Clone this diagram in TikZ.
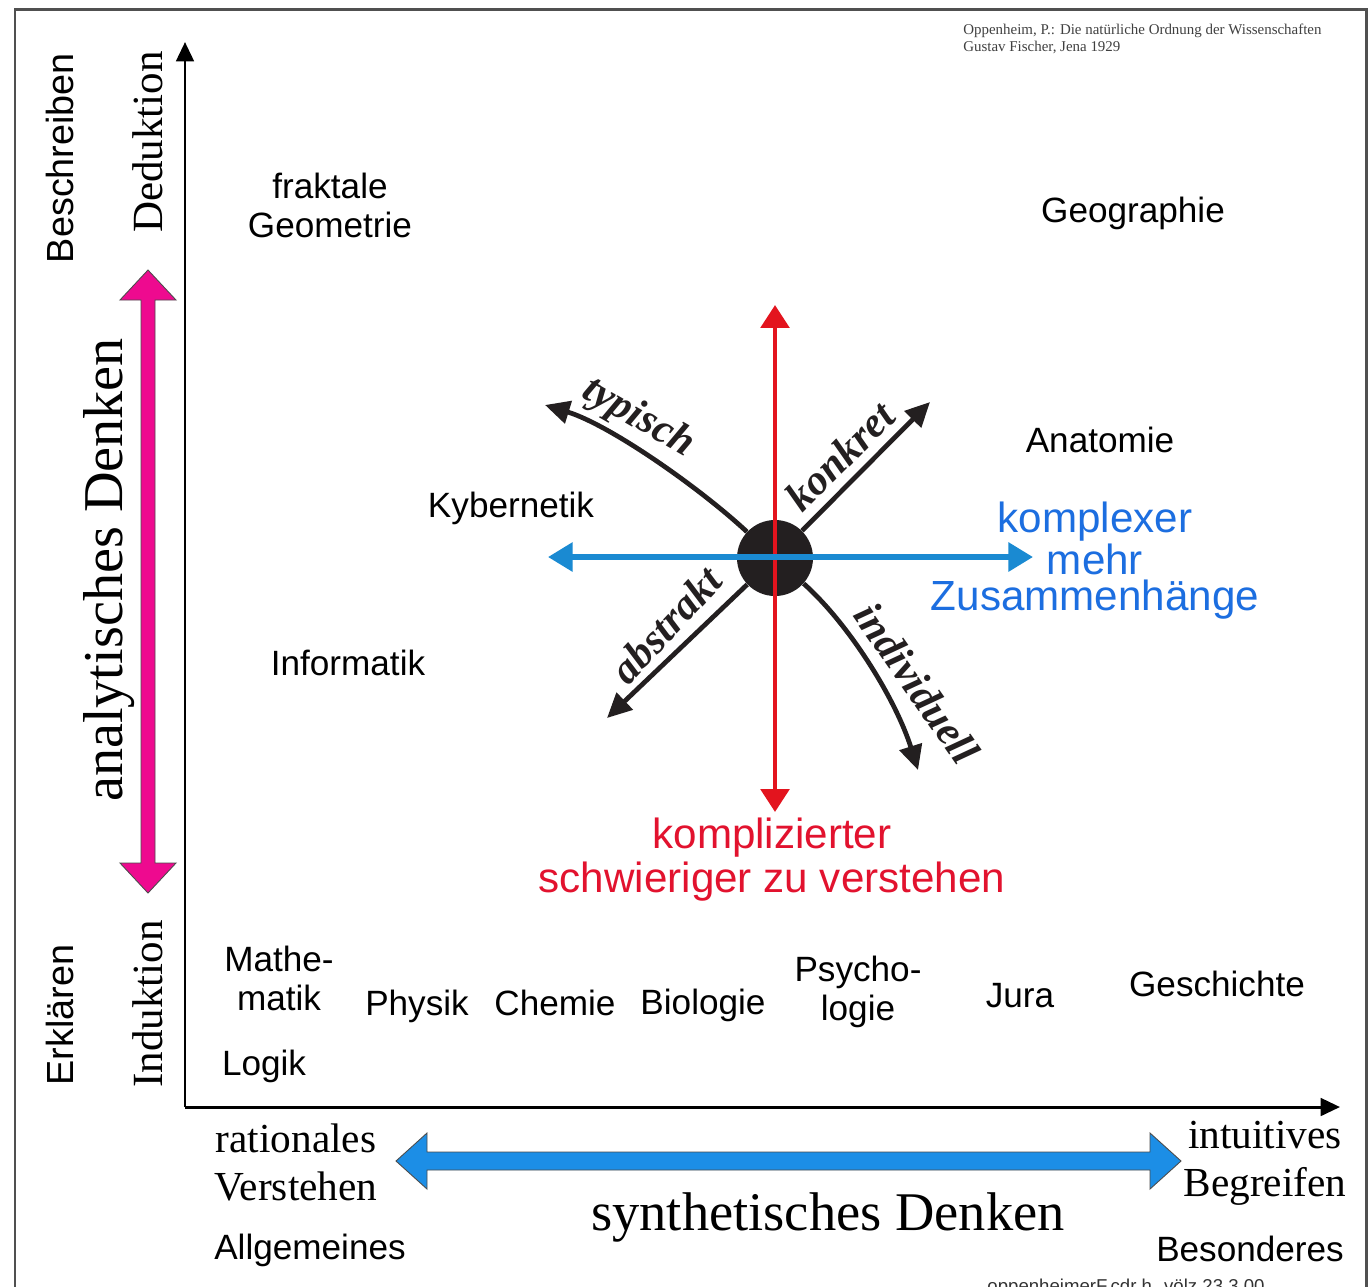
\documentclass[tikz,border=0pt]{standalone}
\usepackage{fontspec}
\setmainfont{Liberation Serif}
\setsansfont{Liberation Sans}
\usetikzlibrary{arrows.meta}
\definecolor{framecol}{HTML}{505050}
\definecolor{pinkarrow}{HTML}{EE0A8F}
\definecolor{bluearrow}{HTML}{1C8EE6}
\definecolor{blueline}{HTML}{1A8AD2}
\definecolor{bluetext}{HTML}{1C6EE0}
\definecolor{redline}{HTML}{E3141E}
\definecolor{redtext}{HTML}{E2122E}
\definecolor{dotcol}{HTML}{231F20}

\begin{document}
\begin{tikzpicture}[x=0.02cm,y=-0.02cm]
	\tikzstyle{s}=[font=\sffamily\fontsize{20}{22}\selectfont,anchor=base,align=center,inner sep=0pt]
	\tikzstyle{r}=[font=\fontsize{23.5}{27}\selectfont,anchor=base,align=center,inner sep=0pt]
	\tikzstyle{bi}=[font=\bfseries\itshape\fontsize{24}{24}\selectfont,inner sep=0pt,text=dotcol]
	\tikzstyle{axis}=[line width=1.7pt,-{Triangle[length=11pt,width=10pt]}]
	\tikzstyle{blk}=[dotcol,line width=2.7pt,-{Triangle[length=14pt,width=13pt]}]
	\useasboundingbox (0,0) rectangle (1371,1286);
	\clip (0,0) rectangle (1371,1286);
	\fill[white] (0,0) rectangle (1371,1286);
	\draw[framecol,line width=1.7pt] (15,1310) -- (15,9) -- (1366,9) -- (1366,1310);
		\coordinate (o) at (185,1107);
		\coordinate (yt) at (185,42);
		\coordinate (xt) at (1340,1107);
		\draw [axis] (o) -- (yt);
		\draw [axis] (o) -- (xt);
		\node [font=\fontsize{8.5}{9.6}\selectfont,anchor=base west,align=left,inner sep=0pt,text=black!75] (cit) at (963,51) {Oppenheim, P.: Die natürliche Ordnung der Wissenschaften\\Gustav Fischer, Jena 1929};
		\node [s,rotate=90,font=\sffamily\fontsize{21.5}{22}\selectfont] (besch) at (73,158) {Beschreiben};
		\node [r,rotate=90,font=\fontsize{24.5}{27}\selectfont] (ded) at (162,142) {Deduktion};
		\node [s,rotate=90,font=\sffamily\fontsize{21.5}{22}\selectfont] (erkl) at (73,1015) {Erklären};
		\node [r,rotate=90,font=\fontsize{24.5}{27}\selectfont] (ind) at (162,1004) {Induktion};
		\node [r,rotate=90,font=\fontsize{32}{36}\selectfont] (analyt) at (122,570) {analytisches Denken};
		\fill [pinkarrow,draw=black!70,line width=0.5pt] (148,270) -- (176,300) -- (155,300) -- (155,863) -- (176,863) -- (148,893) -- (120,863) -- (141,863) -- (141,300) -- (120,300) -- cycle;
		\fill [bluearrow,draw=black!70,line width=0.5pt] (396,1161) -- (427,1133) -- (427,1152) -- (1150,1152) -- (1150,1133) -- (1181,1161) -- (1150,1189) -- (1150,1170) -- (427,1170) -- (427,1189) -- cycle;
		\node [r] (rat) at (296,1200) {rationales\\Verstehen};
		\node [r] (intu) at (1265,1196) {intuitives\\Begreifen};
		\node [r,font=\fontsize{31}{34}\selectfont] (synth) at (828,1230) {synthetisches Denken};
		\node [s] (allg) at (310,1259) {Allgemeines};
		\node [s] (bes) at (1250,1261) {Besonderes};
		\node [s,font=\sffamily\fontsize{10.6}{12}\selectfont,text=black!80] (foot) at (1126,1292) {oppenheimerF.cdr h. völz 23.3.00};
		\node [s] (frak) at (330,237) {fraktale\\Geometrie};
		\node [s] (geo) at (1133,222) {Geographie};
		\node [s] (anat) at (1100,452) {Anatomie};
		\node [s] (kyb) at (511,517) {Kybernetik};
		\node [s] (inf) at (348,675) {Informatik};
		\node [s] (mathe) at (279,1010) {Mathe-\\matik};
		\node [s] (logik) at (264,1075) {Logik};
		\node [s] (phys) at (417,1015) {Physik};
		\node [s] (chem) at (555,1015) {Chemie};
		\node [s] (bio) at (703,1014) {Biologie};
		\node [s] (psy) at (858,1020) {Psycho-\\logie};
		\node [s] (jura) at (1020,1007) {Jura};
		\node [s] (gesch) at (1217,996) {Geschichte};
		\node [circle,fill=dotcol,minimum size=76*0.02cm,inner sep=0pt] (c) at (775,558) {};
		\coordinate (rt) at (775,305);
		\coordinate (rb) at (775,812);
		\coordinate (bl) at (548,557);
		\coordinate (br) at (1033,557);
		\coordinate (kt) at (930,402);
		\coordinate (at) at (607,718);
		\coordinate (tt) at (545,405);
		\coordinate (it) at (918,770);
		\draw [blk] (c) -- (kt);
		\draw [blk] (c) -- (at);
		\draw [blk] (c) .. controls (700,488) and (610,425) .. (tt);
		\draw [blk] (c) .. controls (850,625) and (896,700) .. (it);
		\draw [redline,line width=2.8pt,{Triangle[length=13pt,width=16pt]}-{Triangle[length=13pt,width=16pt]}] (rt) -- (rb);
		\draw [blueline,line width=3.2pt,{Triangle[length=14pt,width=16pt]}-{Triangle[length=14pt,width=16pt]}] (bl) -- (br);
		\node [bi,rotate=-30] (typ) at (638,418) {typisch};
		\node [bi,rotate=45] (konk) at (840,456) {konkret};
		\node [bi,rotate=47] (abst) at (666,625) {abstrakt};
		\node [bi,rotate=-55] (indiv) at (917,683) {individuell};
		\node [s,font=\sffamily\fontsize{24}{20.5}\selectfont,text=bluetext] (kompl) at (1095,610) {komplexer\\mehr\\Zusammenhänge};
		\node [s,font=\sffamily\fontsize{24}{24.5}\selectfont,text=redtext] (kompz) at (772,892) {komplizierter\\schwieriger zu verstehen};
\end{tikzpicture}
\end{document}
